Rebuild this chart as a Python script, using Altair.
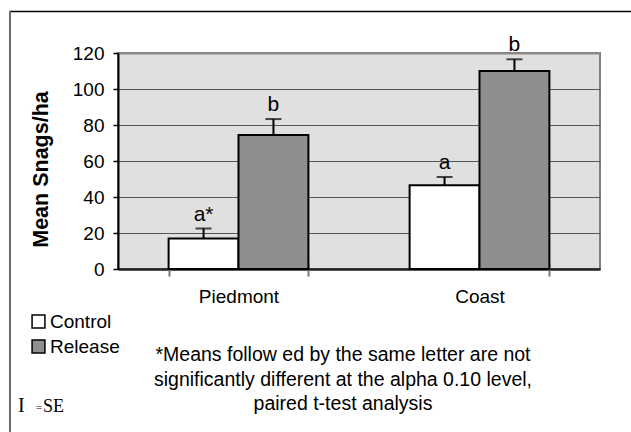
import altair as alt
import pandas as pd

# Mean snag density by region and treatment, with standard errors
regions = ["Piedmont", "Coast"]
treatments = ["Control", "Release"]
control_means = [17, 46.5]
release_means = [74.5, 110]
control_se = [5.5, 4.6]
release_se = [8.8, 6.5]
control_letters = ["a*", "a"]
release_letters = ["b", "b"]
y_ticks = [0, 20, 40, 60, 80, 100, 120]

footnote = [
    "*Means follow ed by the same letter are not",
    "significantly different at the alpha 0.10 level,",
    "paired t-test analysis",
]

rows = []
for i, r in enumerate(regions):
    rows.append(dict(region=r, treatment="Control", mean=control_means[i],
                     se=control_se[i], letter=control_letters[i]))
    rows.append(dict(region=r, treatment="Release", mean=release_means[i],
                     se=release_se[i], letter=release_letters[i]))
df = pd.DataFrame(rows)
df["upper"] = df["mean"] + df["se"]

FONT = "Liberation Sans"
LABEL_SIZE = 19

x_enc = alt.X(
    "region:N",
    sort=regions,
    title=None,
    scale=alt.Scale(paddingInner=0.42, paddingOuter=0.21),
    axis=alt.Axis(
        domain=False,
        offset=-6,
        tickBand="extent",
        tickSize=13,
        tickWidth=2,
        tickColor="#777777",
        labelAngle=0,
        labelFont=FONT,
        labelFontSize=LABEL_SIZE,
        labelColor="black",
        labelPadding=11,
        grid=False,
    ),
)
xoff = alt.XOffset("treatment:N", sort=treatments, scale=alt.Scale(paddingInner=0, paddingOuter=0))
y_scale = alt.Scale(domain=[0, 120], nice=False)

# zero line drawn as the axis line, top gridline lighter like the frame
grid_color = {
    "condition": [
        {"test": "datum.value == 0", "value": "#222222"},
        {"test": "datum.value == 120", "value": "#8a8a8a"},
    ],
    "value": "#555555",
}
grid_width = {
    "condition": [
        {"test": "datum.value == 0", "value": 2.5},
        {"test": "datum.value == 120", "value": 2},
    ],
    "value": 1.2,
}

y_axis = alt.Axis(
    values=y_ticks,
    labelOverlap=False,
    domainColor="black",
    domainWidth=2,
    tickColor="black",
    tickWidth=1.5,
    tickSize=5,
    labelFont=FONT,
    labelFontSize=LABEL_SIZE,
    labelColor="black",
    labelPadding=9,
    titleFont=FONT,
    titleFontSize=21.5,
    titleFontWeight="bold",
    titleColor="black",
    titlePadding=20,
    titleY=116,
    gridColor=grid_color,
    gridWidth=grid_width,
)
TITLE = "Mean Snags/ha"

base = alt.Chart(df)

bars = base.mark_bar(stroke="black", strokeWidth=2).encode(
    x=x_enc,
    xOffset=xoff,
    y=alt.Y("mean:Q", scale=y_scale, title=TITLE, axis=y_axis),
    fill=alt.Fill(
        "treatment:N",
        sort=treatments,
        scale=alt.Scale(domain=treatments, range=["white", "#8e8e8e"]),
        legend=alt.Legend(
            orient="none",
            legendX=-89,
            legendY=259,
            title=None,
            symbolType="square",
            symbolSize=165,
            symbolStrokeColor="black",
            symbolStrokeWidth=1.5,
            labelFont=FONT,
            labelFontSize=LABEL_SIZE,
            labelColor="black",
            labelOffset=2,
            rowPadding=5,
        ),
    ),
)

whisker = base.mark_rule(color="black", strokeWidth=2).encode(
    x=x_enc, xOffset=xoff,
    y=alt.Y("mean:Q", scale=y_scale, title=TITLE, axis=y_axis), y2="upper:Q"
)
cap = base.mark_tick(color="black", size=16, thickness=2).encode(
    x=x_enc, xOffset=xoff,
    y=alt.Y("upper:Q", scale=y_scale, title=TITLE, axis=y_axis)
)
letters = base.mark_text(font=FONT, fontSize=21, color="black", baseline="alphabetic", dy=-8).encode(
    x=x_enc, xOffset=xoff,
    y=alt.Y("upper:Q", scale=y_scale, title=TITLE, axis=y_axis),
    text="letter:N",
)

one = pd.DataFrame({"k": [0]})

note = alt.Chart(one).mark_text(
    font=FONT, fontSize=19.5, color="black", align="center", baseline="top", lineHeight=24.5
).encode(x=alt.value(225), y=alt.value(293), text=alt.value(footnote))

se_bar = alt.Chart(one).mark_text(
    font="Liberation Serif", fontSize=20, color="black", align="left", baseline="alphabetic"
).encode(x=alt.value(-100), y=alt.value(359), text=alt.value("I"))
se_eq = alt.Chart(one).mark_text(
    font="Liberation Serif", fontSize=11, color="black", align="left", baseline="alphabetic"
).encode(x=alt.value(-82), y=alt.value(358), text=alt.value("="))
se_txt = alt.Chart(one).mark_text(
    font="Liberation Serif", fontSize=18, color="black", align="left", baseline="alphabetic"
).encode(x=alt.value(-75), y=alt.value(359), text=alt.value("SE"))

frame_top = alt.Chart(one).mark_rule(color="black", strokeWidth=1.5).encode(
    x=alt.value(-109), x2=alt.value(520), y=alt.value(-41.5)
)
frame_left = alt.Chart(one).mark_rule(color="#6a6a6a", strokeWidth=2).encode(
    x=alt.value(-108), y=alt.value(-42), y2=alt.value(400)
)

chart = alt.layer(
    bars, whisker, cap, letters, note, se_bar, se_eq, se_txt, frame_top, frame_left
).properties(
    width=482,
    height=216,
    autosize=alt.AutoSizeParams(type="none"),
    padding={"left": 118, "top": 53, "right": 31, "bottom": 163},
    background="white",
).configure_view(
    fill="#e0e0e0",
    stroke="#808080",
    strokeWidth=2,
)

chart.save("out.html", embed_options={"renderer": "svg", "actions": False})
